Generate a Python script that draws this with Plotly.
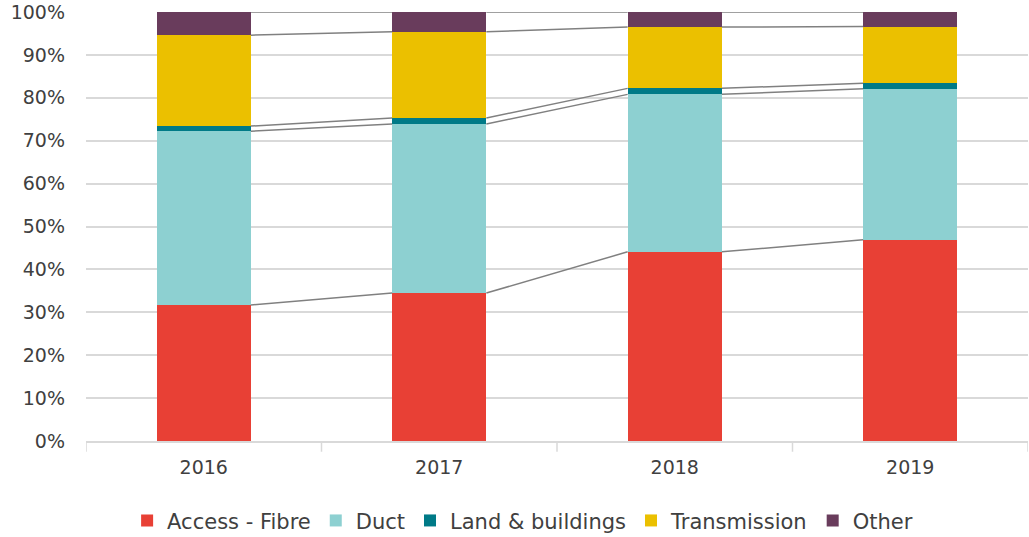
import plotly.graph_objects as go
import numpy as np

years = ["2016", "2017", "2018", "2019"]
series_names = ["Access - Fibre", "Duct", "Land & buildings", "Transmission", "Other"]
access_fibre = [31.7, 34.5, 44.1, 46.9]
duct = [40.5, 39.4, 36.7, 35.2]
land_buildings = [1.2, 1.4, 1.4, 1.3]
transmission = [21.2, 20.1, 14.3, 13.2]
other = [5.4, 4.6, 3.5, 3.4]
colors = ["#E84035", "#8DD0D1", "#007A87", "#EBC000", "#693C5C"]
y_ticks = [0, 10, 20, 30, 40, 50, 60, 70, 80, 90, 100]

data = [access_fibre, duct, land_buildings, transmission, other]
x = list(range(len(years)))
bar_w = 0.4

fig = go.Figure()
for name, vals, col in zip(series_names, data, colors):
    fig.add_trace(go.Bar(x=x, y=vals, name=name, marker=dict(color=col, line=dict(width=0)),
                         width=bar_w))

# series lines connecting tops of segments
cum = np.cumsum(np.array(data), axis=0)
lx, ly = [], []
for s in range(cum.shape[0]):
    for i in range(len(x) - 1):
        lx += [x[i] + bar_w / 2, x[i + 1] - bar_w / 2, None]
        ly += [cum[s][i], cum[s][i + 1], None]
fig.add_trace(go.Scatter(x=lx, y=ly, mode="lines", line=dict(color="#808080", width=1.5),
                         showlegend=False, hoverinfo="skip"))

font = dict(family="DejaVu Sans, Liberation Sans, Arial, sans-serif", size=19, color="#404040")
legend_font = dict(family="DejaVu Sans, Liberation Sans, Arial, sans-serif", size=21, color="#404040")
fig.update_layout(
    barmode="stack",
    width=1029, height=537,
    margin=dict(l=86, r=1, t=12, b=96, autoexpand=False),
    plot_bgcolor="white", paper_bgcolor="white",
    font=font,
    bargap=0.6,
    xaxis=dict(range=[-0.5, 3.5], tickvals=x, ticktext=years, showgrid=False,
               showline=True, linecolor="#D9D9D9", linewidth=1.5, automargin=False,
               ticks="", zeroline=False, tickfont=font, ticklabelstandoff=8),
    yaxis=dict(range=[0, 100], tickvals=y_ticks, ticktext=[f"{v}%" for v in y_ticks],
               showgrid=True, gridcolor="#D9D9D9", gridwidth=1.5, zeroline=False, automargin=False,
               showline=False, ticks="", tickfont=font, ticklabelstandoff=20,
               ticklabeloverflow="allow"),
    legend=dict(orientation="h", x=0.4635, xanchor="center", y=-0.186, yanchor="middle",
                traceorder="normal", font=legend_font, itemwidth=30),
)
# x-axis tick marks between categories
for i in range(len(years) + 1):
    fig.add_shape(type="line", xref="x", yref="paper", x0=i - 0.5, x1=i - 0.5, y0=0, y1=-0.025,
                  line=dict(color="#D9D9D9", width=1.5))

fig.write_html("out.html", config={"displayModeBar": False},
               post_script="document.body.style.margin='0';")
